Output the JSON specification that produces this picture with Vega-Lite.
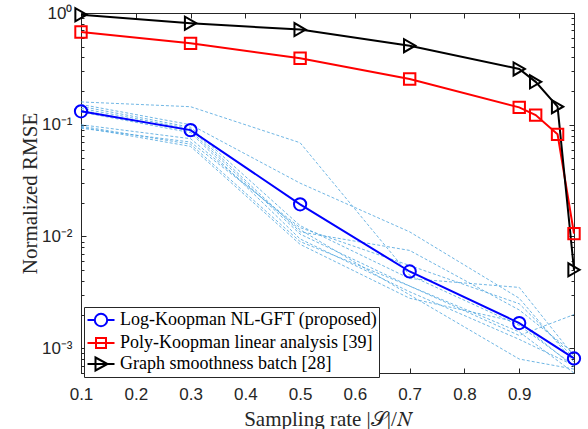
{
  "$schema": "https://vega.github.io/schema/vega-lite/v6.json",
  "width": 493,
  "height": 360,
  "autosize": {"type": "none"},
  "padding": {"left": 81, "top": 13, "right": 14, "bottom": 56},
  "background": "white",
  "config": {
    "view": {"stroke": "#262626", "strokeWidth": 1},
    "axis": {
      "domainColor": "#262626",
      "tickColor": "#262626",
      "labelColor": "#262626",
      "titleColor": "#262626",
      "labelFont": "Liberation Sans",
      "labelFontSize": 17,
      "labelFlush": false,
      "labelOverlap": false,
      "titleFont": "Liberation Serif",
      "titleFontSize": 21,
      "titleFontWeight": "normal",
      "grid": false,
      "tickSize": -5,
      "domainWidth": 1,
      "tickWidth": 1
    }
  },
  "datasets": {
    "main": [
      {"x": 0.1, "y": 0.132, "series": "Log-Koopman NL-GFT (proposed)"},
      {"x": 0.3, "y": 0.0895, "series": "Log-Koopman NL-GFT (proposed)"},
      {"x": 0.5, "y": 0.0194, "series": "Log-Koopman NL-GFT (proposed)"},
      {"x": 0.7, "y": 0.00486, "series": "Log-Koopman NL-GFT (proposed)"},
      {"x": 0.9, "y": 0.00168, "series": "Log-Koopman NL-GFT (proposed)"},
      {"x": 1.0, "y": 0.00081, "series": "Log-Koopman NL-GFT (proposed)"},
      {"x": 0.1, "y": 0.676, "series": "Poly-Koopman linear analysis [39]"},
      {"x": 0.3, "y": 0.535, "series": "Poly-Koopman linear analysis [39]"},
      {"x": 0.5, "y": 0.393, "series": "Poly-Koopman linear analysis [39]"},
      {"x": 0.7, "y": 0.257, "series": "Poly-Koopman linear analysis [39]"},
      {"x": 0.9, "y": 0.143, "series": "Poly-Koopman linear analysis [39]"},
      {"x": 0.93, "y": 0.122, "series": "Poly-Koopman linear analysis [39]"},
      {"x": 0.97, "y": 0.082, "series": "Poly-Koopman linear analysis [39]"},
      {"x": 1.0, "y": 0.0106, "series": "Poly-Koopman linear analysis [39]"},
      {"x": 0.1, "y": 0.965, "series": "Graph smoothness batch [28]"},
      {"x": 0.3, "y": 0.81, "series": "Graph smoothness batch [28]"},
      {"x": 0.5, "y": 0.71, "series": "Graph smoothness batch [28]"},
      {"x": 0.7, "y": 0.51, "series": "Graph smoothness batch [28]"},
      {"x": 0.9, "y": 0.316, "series": "Graph smoothness batch [28]"},
      {"x": 0.93, "y": 0.242, "series": "Graph smoothness batch [28]"},
      {"x": 0.97, "y": 0.145, "series": "Graph smoothness batch [28]"},
      {"x": 1.0, "y": 0.00503, "series": "Graph smoothness batch [28]"}
    ],
    "trials": [
      {"trial": 1, "x": 0.1, "y": 0.160}, {"trial": 1, "x": 0.3, "y": 0.145}, {"trial": 1, "x": 0.5, "y": 0.069}, {"trial": 1, "x": 0.7, "y": 0.0045}, {"trial": 1, "x": 0.9, "y": 0.0016}, {"trial": 1, "x": 1.0, "y": 0.0007},
      {"trial": 2, "x": 0.1, "y": 0.152}, {"trial": 2, "x": 0.3, "y": 0.100}, {"trial": 2, "x": 0.5, "y": 0.030}, {"trial": 2, "x": 0.7, "y": 0.0110}, {"trial": 2, "x": 0.9, "y": 0.0028}, {"trial": 2, "x": 1.0, "y": 0.00075},
      {"trial": 3, "x": 0.1, "y": 0.146}, {"trial": 3, "x": 0.3, "y": 0.095}, {"trial": 3, "x": 0.5, "y": 0.0125}, {"trial": 3, "x": 0.7, "y": 0.0042}, {"trial": 3, "x": 0.9, "y": 0.0035}, {"trial": 3, "x": 1.0, "y": 0.00085},
      {"trial": 4, "x": 0.1, "y": 0.140}, {"trial": 4, "x": 0.3, "y": 0.092}, {"trial": 4, "x": 0.5, "y": 0.0110}, {"trial": 4, "x": 0.7, "y": 0.0075}, {"trial": 4, "x": 0.9, "y": 0.0022}, {"trial": 4, "x": 1.0, "y": 0.0009},
      {"trial": 5, "x": 0.1, "y": 0.135}, {"trial": 5, "x": 0.3, "y": 0.088}, {"trial": 5, "x": 0.5, "y": 0.0105}, {"trial": 5, "x": 0.7, "y": 0.0036}, {"trial": 5, "x": 0.9, "y": 0.0013}, {"trial": 5, "x": 1.0, "y": 0.0020},
      {"trial": 6, "x": 0.1, "y": 0.130}, {"trial": 6, "x": 0.3, "y": 0.085}, {"trial": 6, "x": 0.5, "y": 0.0095}, {"trial": 6, "x": 0.7, "y": 0.0032}, {"trial": 6, "x": 0.9, "y": 0.0012}, {"trial": 6, "x": 1.0, "y": 0.0007},
      {"trial": 7, "x": 0.1, "y": 0.100}, {"trial": 7, "x": 0.3, "y": 0.075}, {"trial": 7, "x": 0.5, "y": 0.0115}, {"trial": 7, "x": 0.7, "y": 0.0030}, {"trial": 7, "x": 0.9, "y": 0.0008}, {"trial": 7, "x": 1.0, "y": 0.00065},
      {"trial": 8, "x": 0.1, "y": 0.097}, {"trial": 8, "x": 0.3, "y": 0.067}, {"trial": 8, "x": 0.5, "y": 0.0090}, {"trial": 8, "x": 0.7, "y": 0.0036}, {"trial": 8, "x": 0.9, "y": 0.0014}, {"trial": 8, "x": 1.0, "y": 0.0006},
      {"trial": 9, "x": 0.1, "y": 0.095}, {"trial": 9, "x": 0.3, "y": 0.064}, {"trial": 9, "x": 0.5, "y": 0.0085}, {"trial": 9, "x": 0.7, "y": 0.0028}, {"trial": 9, "x": 0.9, "y": 0.0017}, {"trial": 9, "x": 1.0, "y": 0.00068},
      {"trial": 10, "x": 0.1, "y": 0.093}, {"trial": 10, "x": 0.3, "y": 0.070}, {"trial": 10, "x": 0.5, "y": 0.0120}, {"trial": 10, "x": 0.7, "y": 0.0055}, {"trial": 10, "x": 0.9, "y": 0.0025}, {"trial": 10, "x": 1.0, "y": 0.00082}
    ]
  },
  "layer": [
    {
      "data": {"name": "trials"},
      "mark": {"type": "line", "strokeDash": [3, 2], "strokeWidth": 0.8, "color": "#4ba3dd"},
      "encoding": {
        "x": {
          "field": "x", "type": "quantitative",
          "scale": {"domain": [0.1, 1.0], "nice": false, "zero": false},
          "axis": {
            "orient": "bottom",
            "values": [0.1, 0.2, 0.3, 0.4, 0.5, 0.6, 0.7, 0.8, 0.9],
            "format": ".1f",
            "labelPadding": 18,
            "title": "Sampling rate |𝒮|/𝑁",
            "titleX": 246,
            "titleY": 46,
            "titleBaseline": "middle"
          }
        },
        "y": {
          "field": "y", "type": "quantitative",
          "scale": {"type": "log", "domain": [0.0006, 1], "nice": false},
          "axis": {
            "orient": "left",
            "values": [1, 0.1, 0.01, 0.001],
            "labelPadding": 14,
            "labelExpr": "datum.value >= 0.5 ? '10⁰' : datum.value >= 0.05 ? '10⁻¹' : datum.value >= 0.005 ? '10⁻²' : '10⁻³'",
            "title": "Normalized RMSE",
            "titleX": -51,
            "titleY": 180,
            "titleAngle": -90,
            "titleAlign": "center",
            "titleBaseline": "middle"
          }
        },
        "detail": {"field": "trial", "type": "nominal"}
      }
    },
    {
      "data": {"name": "main"},
      "mark": {"type": "line", "strokeWidth": 2},
      "encoding": {
        "x": {"field": "x", "type": "quantitative", "axis": {"orient": "top", "values": [0.1, 0.2, 0.3, 0.4, 0.5, 0.6, 0.7, 0.8, 0.9], "labels": false, "title": null, "domain": false}},
        "y": {"field": "y", "type": "quantitative", "axis": {"orient": "right", "values": [1, 0.1, 0.01, 0.001], "labels": false, "title": null, "domain": false}},
        "color": {
          "field": "series", "type": "nominal",
          "scale": {
            "domain": ["Log-Koopman NL-GFT (proposed)", "Poly-Koopman linear analysis [39]", "Graph smoothness batch [28]"],
            "range": ["#0000ff", "#ff0000", "#000000"]
          },
          "legend": {
            "orient": "none",
            "legendX": 3,
            "legendY": 294,
            "title": null,
            "direction": "vertical",
            "fillColor": "white",
            "strokeColor": "#262626",
            "padding": 2,
            "symbolSize": 400,
            "symbolOffset": 4,
            "labelOffset": 8,
            "labelFont": "Liberation Serif",
            "labelFontSize": 18,
            "labelColor": "#000000",
            "labelLimit": 400,
            "rowPadding": 1,
            "encode": {
              "symbols": {
                "update": {
                  "shape": {"signal": "datum.value === 'Log-Koopman NL-GFT (proposed)' ? 'M-1.35,0H-0.62M0.62,0H1.35M-0.62,0A0.62,0.62,0,1,1,0.62,0A0.62,0.62,0,1,1,-0.62,0Z' : datum.value === 'Poly-Koopman linear analysis [39]' ? 'M-1.35,0H1.35M-0.5,-0.5H0.5V0.5H-0.5Z' : 'M-1.35,0H1.35M-0.55,-0.65L0.65,0L-0.55,0.65Z'"},
                  "fill": {"value": "transparent"},
                  "strokeWidth": {"value": 2}
                }
              }
            }
          }
        }
      }
    },
    {
      "data": {"name": "main"},
      "mark": {"type": "line", "strokeOpacity": 0},
      "encoding": {
        "x": {"field": "x", "type": "quantitative", "axis": null},
        "y": {"field": "y", "type": "quantitative", "axis": {"orient": "left", "values": [0.0006, 0.0007, 0.0008, 0.0009, 0.002, 0.003, 0.004, 0.005, 0.006, 0.007, 0.008, 0.009, 0.02, 0.03, 0.04, 0.05, 0.06, 0.07, 0.08, 0.09, 0.2, 0.3, 0.4, 0.5, 0.6, 0.7, 0.8, 0.9], "labels": false, "title": null, "domain": false, "tickSize": -3}},
        "detail": {"field": "series", "type": "nominal"}
      }
    },
    {
      "data": {"name": "main"},
      "transform": [{"filter": "datum.series === 'Log-Koopman NL-GFT (proposed)'"}],
      "mark": {"type": "point", "shape": "circle", "filled": false, "strokeWidth": 2, "size": 150, "opacity": 1, "color": "#0000ff"},
      "encoding": {
        "x": {"field": "x", "type": "quantitative", "axis": null},
        "y": {"field": "y", "type": "quantitative", "axis": {"orient": "right", "values": [0.0006, 0.0007, 0.0008, 0.0009, 0.002, 0.003, 0.004, 0.005, 0.006, 0.007, 0.008, 0.009, 0.02, 0.03, 0.04, 0.05, 0.06, 0.07, 0.08, 0.09, 0.2, 0.3, 0.4, 0.5, 0.6, 0.7, 0.8, 0.9], "labels": false, "title": null, "domain": false, "tickSize": -3}}
      }
    },
    {
      "data": {"name": "main"},
      "transform": [{"filter": "datum.series === 'Poly-Koopman linear analysis [39]'"}],
      "mark": {"type": "point", "shape": "square", "filled": false, "strokeWidth": 2, "size": 130, "opacity": 1, "color": "#ff0000"},
      "encoding": {
        "x": {"field": "x", "type": "quantitative", "axis": null},
        "y": {"field": "y", "type": "quantitative", "axis": null}
      }
    },
    {
      "data": {"name": "main"},
      "transform": [{"filter": "datum.series === 'Graph smoothness batch [28]'"}],
      "mark": {"type": "point", "shape": "triangle-right", "filled": false, "strokeWidth": 2, "size": 170, "opacity": 1, "color": "#000000"},
      "encoding": {
        "x": {"field": "x", "type": "quantitative", "axis": null},
        "y": {"field": "y", "type": "quantitative", "axis": null}
      }
    }
  ],
  "resolve": {"axis": {"x": "independent", "y": "independent"}}
}
